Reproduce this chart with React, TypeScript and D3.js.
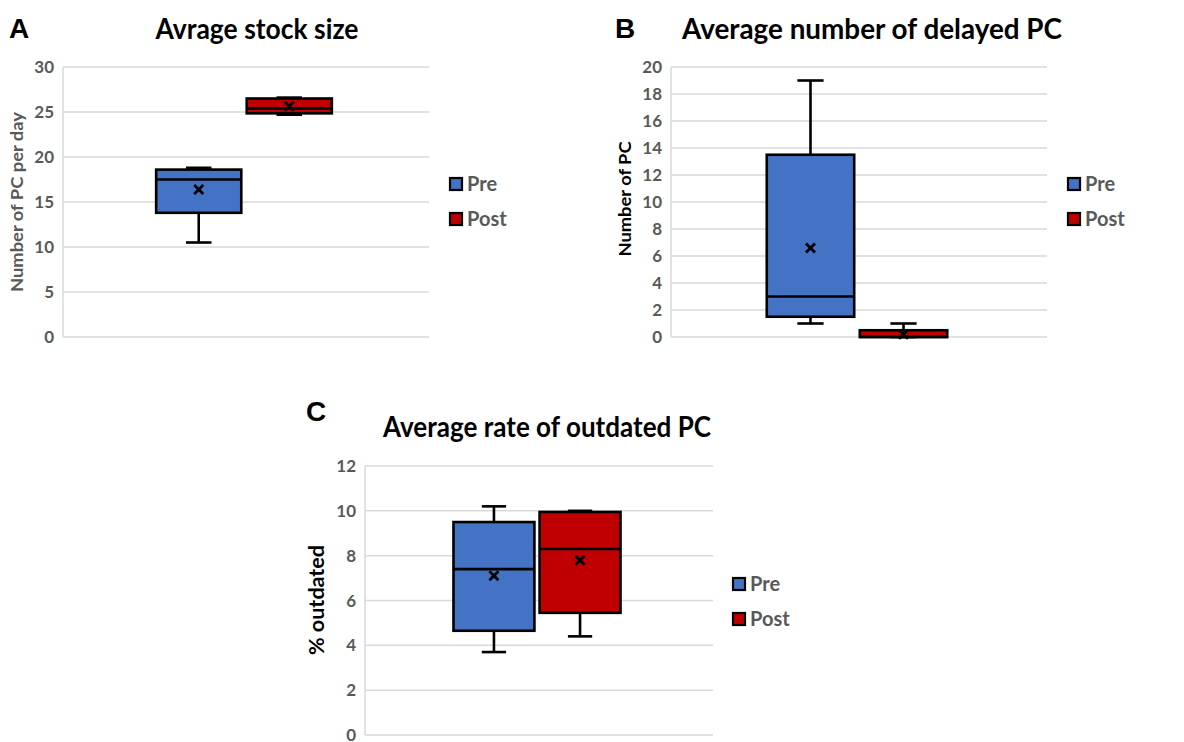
import React from "react";
import * as d3 from "d3";

// ---------- DATA ----------
const groups = ["Pre", "Post"];

// Panel A: average stock size
const stockMin = [10.5, 24.7];
const stockQ1 = [13.8, 24.85];
const stockMedian = [17.5, 25.4];
const stockQ3 = [18.6, 26.5];
const stockMax = [18.8, 26.6];
const stockMean = [16.4, 25.65];
const stockTicks = [0, 5, 10, 15, 20, 25, 30];

// Panel B: delayed PC
const delayedMin = [1, 0];
const delayedQ1 = [1.5, 0];
const delayedMedian = [3, 0];
const delayedQ3 = [13.5, 0.5];
const delayedMax = [19, 1];
const delayedMean = [6.6, 0.2];
const delayedTicks = [0, 2, 4, 6, 8, 10, 12, 14, 16, 18, 20];

// Panel C: outdated rate
const outdatedMin = [3.7, 4.4];
const outdatedQ1 = [4.65, 5.45];
const outdatedMedian = [7.4, 8.3];
const outdatedQ3 = [9.5, 9.95];
const outdatedMax = [10.2, 10.0];
const outdatedMean = [7.1, 7.8];
const outdatedTicks = [0, 2, 4, 6, 8, 10, 12];

const colors = ["#4472C4", "#C00000"];

const FONT = "Lato, 'Open Sans', sans-serif";

type PanelProps = {
  letter: string;
  letterX: number;
  letterY: number;
  title: string;
  titleX: number;
  titleY: number;
  titleLen: number;
  yLabel: string;
  yLabelX: number;
  yLabelY: number;
  yLabelSize: number;
  yLabelLen: number;
  yLabelColor: string;
  left: number;
  right: number;
  top: number;
  bottom: number;
  ticks: number[];
  tickSize: number;
  mins: number[];
  q1: number[];
  med: number[];
  q3: number[];
  maxs: number[];
  means: number[];
  legendX: number;
  legendY: number;
};

function Panel(p: PanelProps) {
  const y = d3
    .scaleLinear()
    .domain([p.ticks[0], p.ticks[p.ticks.length - 1]])
    .range([p.bottom, p.top]);
  const center = (p.left + p.right) / 2 - 2;
  const groupW = (p.right - p.left) * 0.48;
  const x = d3
    .scaleBand<string>()
    .domain(groups)
    .range([center - groupW / 2, center + groupW / 2])
    .paddingInner(0.06);
  const bw = x.bandwidth();
  const capW = bw * 0.3;
  const sw = 2.6;
  const m = 4.5;
  return (
    <g>
      <text
        x={p.letterX}
        y={p.letterY}
        fontFamily="'Liberation Sans', Arial, sans-serif"
        fontWeight="bold"
        fontSize={28}
        fill="#000"
      >
        {p.letter}
      </text>
      <text
        x={p.titleX}
        y={p.titleY}
        textAnchor="middle"
        fontFamily={FONT}
        fontWeight="bold"
        fontSize={28}
        textLength={p.titleLen}
        lengthAdjust="spacingAndGlyphs"
        fill="#000"
      >
        {p.title}
      </text>
      {/* gridlines */}
      {p.ticks.map((t) => (
        <line
          key={t}
          x1={p.left}
          x2={p.right}
          y1={y(t)}
          y2={y(t)}
          stroke="#d9d9d9"
          strokeWidth={1.5}
        />
      ))}
      <line x1={p.left} x2={p.left} y1={p.top} y2={p.bottom} stroke="#d9d9d9" strokeWidth={1.5} />
      {p.ticks.map((t) => (
        <text
          key={"l" + t}
          x={p.left - 9}
          y={y(t)}
          dy="0.36em"
          textAnchor="end"
          fontFamily={FONT}
          fontWeight="bold"
          fontSize={p.tickSize}
          fill="#595959"
        >
          {t}
        </text>
      ))}
      <text
        transform={`translate(${p.yLabelX},${p.yLabelY}) rotate(-90)`}
        textAnchor="middle"
        dy="0.35em"
        fontFamily={FONT}
        fontWeight="bold"
        fontSize={p.yLabelSize}
        textLength={p.yLabelLen}
        lengthAdjust="spacingAndGlyphs"
        fill={p.yLabelColor}
      >
        {p.yLabel}
      </text>
      {/* boxes */}
      {groups.map((g, i) => {
        const x0 = x(g) as number;
        const cx = x0 + bw / 2;
        return (
          <g key={g}>
            <line x1={cx} x2={cx} y1={y(p.q3[i])} y2={y(p.maxs[i])} stroke="#000" strokeWidth={sw} />
            <line x1={cx} x2={cx} y1={y(p.q1[i])} y2={y(p.mins[i])} stroke="#000" strokeWidth={sw} />
            <line x1={cx - capW / 2} x2={cx + capW / 2} y1={y(p.maxs[i])} y2={y(p.maxs[i])} stroke="#000" strokeWidth={sw} />
            <line x1={cx - capW / 2} x2={cx + capW / 2} y1={y(p.mins[i])} y2={y(p.mins[i])} stroke="#000" strokeWidth={sw} />
            <rect
              x={x0}
              y={y(p.q3[i])}
              width={bw}
              height={y(p.q1[i]) - y(p.q3[i])}
              fill={colors[i]}
              stroke="#000"
              strokeWidth={sw}
            />
            <line x1={x0} x2={x0 + bw} y1={y(p.med[i])} y2={y(p.med[i])} stroke="#000" strokeWidth={sw} />
            <g stroke="#000" strokeWidth={2.8}>
              <line x1={cx - m} x2={cx + m} y1={y(p.means[i]) - m} y2={y(p.means[i]) + m} />
              <line x1={cx - m} x2={cx + m} y1={y(p.means[i]) + m} y2={y(p.means[i]) - m} />
            </g>
          </g>
        );
      })}
      {/* legend */}
      {groups.map((g, i) => (
        <g key={"lg" + g} transform={`translate(${p.legendX},${p.legendY + i * 35})`}>
          <rect x={0} y={0} width={12} height={12} fill={colors[i]} stroke="#000" strokeWidth={2.2} />
          <text
            x={17}
            y={6}
            dy="0.36em"
            fontFamily={FONT}
            fontWeight="bold"
            fontSize={20}
            fill="#595959"
          >
            {g}
          </text>
        </g>
      ))}
    </g>
  );
}

export default function App() {
  return (
    <svg width={1184} height={742} style={{ display: "block", position: "absolute", left: 0, top: 0 }}>
      <rect width={1184} height={742} fill="#fff" />
      <Panel
        letter="A"
        letterX={9}
        letterY={38}
        title="Avrage stock size"
        titleX={257}
        titleY={39}
        titleLen={203}
        yLabel="Number of PC per day"
        yLabelX={17}
        yLabelY={202}
        yLabelSize={17}
        yLabelLen={180}
        yLabelColor="#595959"
        left={63}
        right={429}
        top={67}
        bottom={337}
        ticks={stockTicks}
        tickSize={17}
        mins={stockMin}
        q1={stockQ1}
        med={stockMedian}
        q3={stockQ3}
        maxs={stockMax}
        means={stockMean}
        legendX={450}
        legendY={178}
      />
      <Panel
        letter="B"
        letterX={615}
        letterY={38}
        title="Average number of delayed PC"
        titleX={872}
        titleY={39}
        titleLen={380}
        yLabel="Number of PC"
        yLabelX={625}
        yLabelY={199}
        yLabelSize={17}
        yLabelLen={115}
        yLabelColor="#000"
        left={671}
        right={1047}
        top={67}
        bottom={337}
        ticks={delayedTicks}
        tickSize={17}
        mins={delayedMin}
        q1={delayedQ1}
        med={delayedMedian}
        q3={delayedQ3}
        maxs={delayedMax}
        means={delayedMean}
        legendX={1068}
        legendY={178}
      />
      <Panel
        letter="C"
        letterX={306}
        letterY={421}
        title="Average rate of outdated PC"
        titleX={547}
        titleY={437}
        titleLen={328}
        yLabel="% outdated"
        yLabelX={317}
        yLabelY={600}
        yLabelSize={20}
        yLabelLen={110}
        yLabelColor="#000"
        left={365}
        right={713}
        top={466}
        bottom={735}
        ticks={outdatedTicks}
        tickSize={17}
        mins={outdatedMin}
        q1={outdatedQ1}
        med={outdatedMedian}
        q3={outdatedQ3}
        maxs={outdatedMax}
        means={outdatedMean}
        legendX={733}
        legendY={578}
      />
    </svg>
  );
}
